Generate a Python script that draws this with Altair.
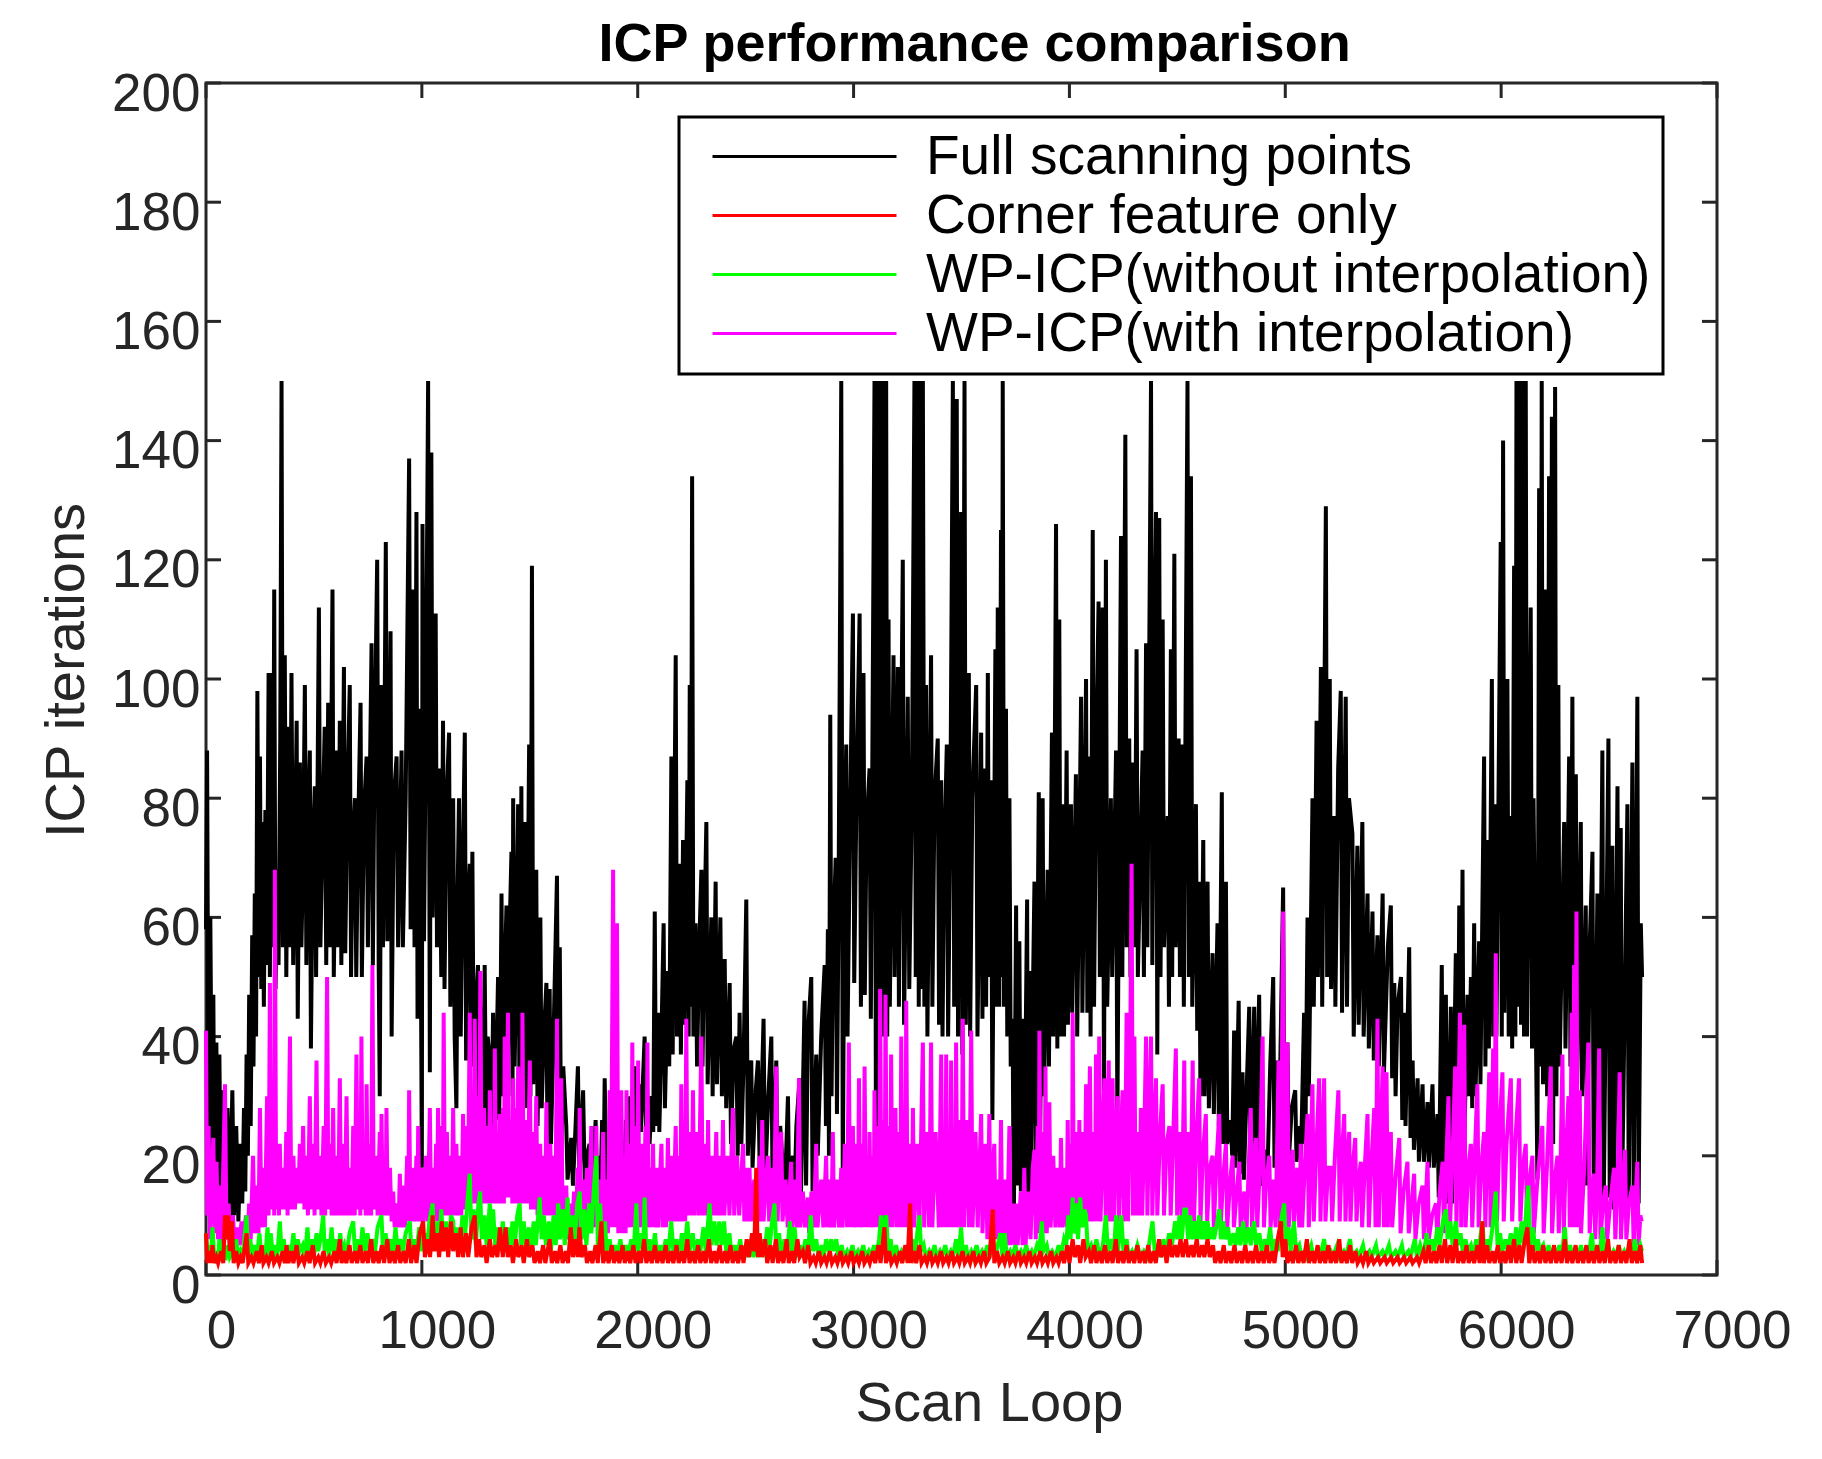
import altair as alt
import pandas as pd

FONT = "Liberation Sans"
INK = "#262626"

X_TICKS = [0, 1000, 2000, 3000, 4000, 5000, 6000, 7000]
Y_TICKS = [0, 20, 40, 60, 80, 100, 120, 140, 160, 180, 200]
SERIES = ["Full scanning points", "Corner feature only",
          "WP-ICP(without interpolation)", "WP-ICP(with interpolation)"]
COLORS = ["#000000", "#ff0000", "#00ff00", "#ff00ff"]

# (scan loop, ICP iterations)
full_points = [
(0,58),(5,88),(12,25),(20,60),(28,20),(34,47),(40,9),(48,39),(55,14),(62,37),(70,8),(80,31),(90,7),(100,28),(110,8),(122,31),(130,10),(140,25),(150,9),(160,22),(168,12),(176,28),(182,14),(188,37),(194,20),(200,47),(207,25),(214,57),(220,35),(226,64),(232,40),(238,98),(244,50),(250,87),(256,48),(262,76),(268,45),(275,78),(282,52),(290,101),(296,50),(304,101),(310,55),(316,115),(322,48),(330,68),(336,52),(344,90),(350,150),(356,55),(365,104),(372,50),(381,92),(388,55),(396,101),(404,52),(412,70),(420,93),(425,43),(435,86),(442,55),(450,70),(458,99),(465,52),(472,75),(481,88),(486,38),(495,72),(504,82),(510,50),(523,112),(530,55),(540,75),(550,92),(557,52),(566,96),(573,55),(586,115),(592,50),(600,72),(605,88),(612,55),(620,93),(627,52),(639,102),(645,54),(655,80),(666,99),(672,50),(680,72),(690,80),(696,50),(705,75),(716,96),(722,50),(732,78),(744,87),(750,55),(758,80),(767,106),(773,52),(780,85),(793,120),(800,52),(805,30),(813,99),(820,55),(833,123),(840,56),(848,80),(855,108),(860,40),(870,80),(883,87),(890,55),(906,88),(912,55),(925,80),(941,137),(948,58),(955,90),(960,115),(966,55),(975,128),(980,43),(990,95),(1000,18),(1003,126),(1010,56),(1020,100),(1029,150),(1037,34),(1044,138),(1050,60),(1058,95),(1064,111),(1070,55),(1080,85),(1090,50),(1098,93),(1105,48),(1115,80),(1126,91),(1132,45),(1140,70),(1145,80),(1152,40),(1160,28),(1166,65),(1172,80),(1180,40),(1190,70),(1199,91),(1205,36),(1212,60),(1222,69),(1228,38),(1234,71),(1240,35),(1250,45),(1260,52),(1266,25),(1275,45),(1280,18),(1291,52),(1298,25),(1305,40),(1315,36),(1320,18),(1330,44),(1336,22),(1345,35),(1353,50),(1358,26),(1365,45),(1369,64),(1375,30),(1384,50),(1392,62),(1398,32),(1405,55),(1415,71),(1420,30),(1423,80),(1430,35),(1440,60),(1446,79),(1452,30),(1461,82),(1467,32),(1477,76),(1483,28),(1490,60),(1497,89),(1503,30),(1510,119),(1516,32),(1523,55),(1530,68),(1536,25),(1549,60),(1555,28),(1565,40),(1577,49),(1582,21),(1592,48),(1598,22),(1610,40),(1626,67),(1632,25),(1639,55),(1645,20),(1655,35),(1669,25),(1675,16),(1685,20),(1692,23),(1700,15),(1712,25),(1723,35),(1730,16),(1747,31),(1755,15),(1765,20),(1777,22),(1785,14),(1795,18),(1805,26),(1812,12),(1820,20),(1828,14),(1835,26),(1840,10),(1847,33),(1855,15),(1865,22),(1875,12),(1885,20),(1895,10),(1905,25),(1915,14),(1925,20),(1935,12),(1945,26),(1955,20),(1965,30),(1972,22),(1985,35),(1992,22),(2005,32),(2015,24),(2032,40),(2040,22),(2048,30),(2055,22),(2065,30),(2072,24),(2079,61),(2085,25),(2094,44),(2100,24),(2110,40),(2120,59),(2126,28),(2140,51),(2146,35),(2156,87),(2162,37),(2176,104),(2182,40),(2194,69),(2200,37),(2210,73),(2216,42),(2230,83),(2236,40),(2241,99),(2246,45),(2252,134),(2258,40),(2268,59),(2275,35),(2285,55),(2295,68),(2300,35),(2310,60),(2318,76),(2324,32),(2341,60),(2347,30),(2361,66),(2367,32),(2383,60),(2390,30),(2403,53),(2410,28),(2426,49),(2432,22),(2445,38),(2457,40),(2463,20),(2472,44),(2480,22),(2490,35),(2503,63),(2510,20),(2526,36),(2532,18),(2545,30),(2557,36),(2565,18),(2583,43),(2590,15),(2605,30),(2619,40),(2625,13),(2642,36),(2648,14),(2660,25),(2673,18),(2680,12),(2696,30),(2702,13),(2719,20),(2725,12),(2735,25),(2750,33),(2756,13),(2773,46),(2780,15),(2788,40),(2804,50),(2810,14),(2827,37),(2834,20),(2850,40),(2866,52),(2872,25),(2881,58),(2886,20),(2892,94),(2898,30),(2905,55),(2917,70),(2923,27),(2930,60),(2943,150),(2950,14),(2958,70),(2966,89),(2972,40),(2985,80),(2997,111),(3003,49),(3015,85),(3028,111),(3034,45),(3046,101),(3052,47),(3060,75),(3074,85),(3080,43),(3097,150),(3104,13),(3110,150),(3118,36),(3125,150),(3132,40),(3140,150),(3146,45),(3151,150),(3156,40),(3162,110),(3168,45),(3185,104),(3190,50),(3205,102),(3210,45),(3228,120),(3234,42),(3251,97),(3258,48),(3270,80),(3282,150),(3288,50),(3296,150),(3302,45),(3310,150),(3316,48),(3321,150),(3328,45),(3336,99),(3342,40),(3359,104),(3365,45),(3375,80),(3390,90),(3396,42),(3406,83),(3412,40),(3420,70),(3432,89),(3438,40),(3448,75),(3460,150),(3466,45),(3478,147),(3484,40),(3490,90),(3498,128),(3504,37),(3514,150),(3520,42),(3534,101),(3540,40),(3550,80),(3568,99),(3574,40),(3591,91),(3597,43),(3605,85),(3614,45),(3622,101),(3628,50),(3637,83),(3643,26),(3657,105),(3662,45),(3668,112),(3675,45),(3683,125),(3687,50),(3691,150),(3697,45),(3706,95),(3712,40),(3722,80),(3728,35),(3737,43),(3742,7),(3753,62),(3758,15),(3768,56),(3775,14),(3784,43),(3790,14),(3804,63),(3808,12),(3814,51),(3820,10),(3830,45),(3838,66),(3844,18),(3858,81),(3864,20),(3876,80),(3882,30),(3899,68),(3905,35),(3919,91),(3925,40),(3938,126),(3944,38),(3953,110),(3959,40),(3969,79),(3975,40),(3987,88),(3993,42),(4007,79),(4013,44),(4030,84),(4036,40),(4054,97),(4060,44),(4077,100),(4083,44),(4092,87),(4098,40),(4108,125),(4114,45),(4125,90),(4135,113),(4141,50),(4154,112),(4160,30),(4169,120),(4175,45),(4192,80),(4198,50),(4216,88),(4222,25),(4239,124),(4245,50),(4259,141),(4265,55),(4277,90),(4283,50),(4296,86),(4302,55),(4311,105),(4317,50),(4339,88),(4345,50),(4355,106),(4361,55),(4378,150),(4384,52),(4392,100),(4401,128),(4407,37),(4416,127),(4422,50),(4432,110),(4438,55),(4455,77),(4461,45),(4470,105),(4476,50),(4486,121),(4492,55),(4506,90),(4512,50),(4524,89),(4530,45),(4547,150),(4553,50),(4563,134),(4569,45),(4586,79),(4592,41),(4601,66),(4607,30),(4620,73),(4626,30),(4640,66),(4646,28),(4663,54),(4669,27),(4686,59),(4692,25),(4706,81),(4712,22),(4725,66),(4731,22),(4748,26),(4754,20),(4763,41),(4769,18),(4784,46),(4790,17),(4802,34),(4808,16),(4833,45),(4839,18),(4856,45),(4862,20),(4879,47),(4885,15),(4910,21),(4916,15),(4930,35),(4944,50),(4950,18),(4964,36),(4970,20),(4990,65),(4996,20),(5010,39),(5016,19),(5030,28),(5046,31),(5052,19),(5067,25),(5073,20),(5087,44),(5093,22),(5103,60),(5109,30),(5126,80),(5132,45),(5145,93),(5151,50),(5165,102),(5171,45),(5188,129),(5194,50),(5206,100),(5212,48),(5226,77),(5232,45),(5245,85),(5257,98),(5263,44),(5280,97),(5286,45),(5295,80),(5311,74),(5317,40),(5334,72),(5340,42),(5357,76),(5363,40),(5381,64),(5387,38),(5404,61),(5410,36),(5427,57),(5433,35),(5451,64),(5457,34),(5475,55),(5489,62),(5495,33),(5505,49),(5511,30),(5520,45),(5536,50),(5542,26),(5551,44),(5557,25),(5574,55),(5580,23),(5590,36),(5596,21),(5613,33),(5619,19),(5636,32),(5642,19),(5659,29),(5665,18),(5682,32),(5688,18),(5705,27),(5711,13),(5725,52),(5731,15),(5744,47),(5750,12),(5767,45),(5773,12),(5790,54),(5796,14),(5806,62),(5812,15),(5821,68),(5827,18),(5844,47),(5850,30),(5860,50),(5866,28),(5875,59),(5881,30),(5898,56),(5904,32),(5921,87),(5927,35),(5937,73),(5943,38),(5957,100),(5963,40),(5972,79),(5978,40),(5998,123),(6003,40),(6009,140),(6015,44),(6029,100),(6035,40),(6045,77),(6051,38),(6060,119),(6066,40),(6071,150),(6077,45),(6085,150),(6092,42),(6100,150),(6106,40),(6114,150),(6120,40),(6137,112),(6143,38),(6150,80),(6161,41),(6168,16),(6176,132),(6182,35),(6188,150),(6194,32),(6207,115),(6213,30),(6222,134),(6228,25),(6235,144),(6241,22),(6250,149),(6256,30),(6265,99),(6271,35),(6292,76),(6298,38),(6315,87),(6321,35),(6330,97),(6336,33),(6346,84),(6352,32),(6369,76),(6375,30),(6392,62),(6398,15),(6410,55),(6423,71),(6429,12),(6446,64),(6452,12),(6469,88),(6475,11),(6497,90),(6503,13),(6515,72),(6521,11),(6539,82),(6545,12),(6554,75),(6560,13),(6585,79),(6591,12),(6608,86),(6614,10),(6631,97),(6637,12),(6647,59),(6653,50),
]

corner_points = [
(0,7),(6,2),(14,4),(22,2),(30,5),(38,2),(48,3),(56,2),(70,4),(80,2),(88,10),(95,6),(103,10),(110,4),(120,9),(128,2),(140,4),(150,2),(160,3),(170,2),(188,7),(196,2),(210,3),(220,2),(235,4),(245,2),(258,5),(266,2),(280,3),(290,2),(305,4),(315,2),(330,3),(340,2),(355,4),(365,2),(373,5),(382,2),(395,4),(405,2),(420,5),(430,2),(445,3),(455,2),(470,4),(480,2),(495,5),(505,2),(520,3),(530,2),(545,4),(555,2),(570,3),(580,2),(595,4),(605,2),(620,6),(628,2),(640,4),(650,2),(665,5),(675,2),(690,4),(700,2),(715,5),(725,2),(740,4),(750,2),(765,6),(775,2),(790,4),(800,2),(815,5),(825,2),(840,6),(850,2),(865,4),(875,2),(890,5),(900,2),(915,4),(925,2),(940,6),(950,2),(965,5),(975,2),(990,7),(1006,9),(1014,3),(1028,6),(1038,3),(1050,10),(1058,4),(1070,7),(1080,3),(1092,9),(1100,4),(1112,8),(1122,3),(1135,9),(1145,4),(1158,7),(1168,3),(1180,8),(1190,3),(1205,7),(1215,3),(1230,8),(1245,10),(1253,3),(1265,6),(1275,3),(1290,5),(1300,2),(1315,6),(1325,3),(1340,5),(1350,3),(1362,8),(1375,3),(1388,8),(1398,3),(1412,5),(1422,2),(1437,6),(1447,3),(1462,5),(1472,2),(1487,6),(1497,3),(1512,5),(1522,2),(1537,4),(1547,2),(1562,5),(1572,2),(1592,6),(1602,2),(1617,4),(1627,2),(1642,5),(1652,2),(1667,4),(1677,2),(1690,8),(1700,3),(1712,6),(1722,3),(1730,8),(1740,3),(1755,5),(1765,2),(1780,4),(1790,2),(1805,5),(1815,2),(1832,9),(1840,2),(1855,4),(1865,2),(1880,5),(1890,2),(1905,4),(1915,2),(1930,5),(1940,2),(1955,4),(1965,2),(1980,5),(1990,2),(2005,4),(2015,2),(2030,6),(2040,2),(2055,4),(2065,2),(2080,5),(2090,2),(2105,4),(2115,2),(2130,5),(2140,2),(2155,4),(2165,2),(2180,5),(2190,2),(2205,4),(2215,2),(2230,6),(2240,2),(2255,4),(2265,2),(2280,5),(2290,2),(2305,4),(2315,2),(2330,6),(2340,2),(2355,4),(2365,2),(2380,5),(2390,2),(2405,4),(2415,2),(2430,5),(2440,2),(2455,4),(2465,2),(2480,5),(2490,2),(2505,6),(2515,3),(2530,7),(2540,4),(2549,18),(2556,3),(2565,7),(2575,3),(2590,6),(2600,2),(2615,5),(2625,2),(2640,6),(2650,2),(2665,4),(2675,2),(2690,6),(2700,2),(2715,4),(2725,2),(2740,6),(2750,3),(2765,4),(2775,2),(2790,5),(2800,2),(2815,3),(2825,2),(2840,4),(2850,2),(2865,3),(2875,2),(2890,4),(2900,2),(2915,3),(2925,2),(2940,4),(2950,2),(2965,3),(2975,2),(2990,4),(3000,2),(3015,3),(3025,2),(3040,4),(3050,2),(3065,3),(3075,2),(3090,4),(3100,2),(3115,5),(3125,2),(3143,8),(3150,2),(3165,4),(3175,2),(3190,3),(3200,2),(3215,4),(3225,2),(3240,5),(3250,2),(3262,12),(3268,2),(3280,4),(3290,2),(3305,5),(3315,2),(3330,3),(3340,2),(3355,4),(3365,2),(3380,3),(3390,2),(3405,4),(3415,2),(3430,3),(3440,2),(3455,4),(3465,2),(3480,3),(3490,2),(3505,4),(3515,2),(3530,3),(3540,2),(3555,4),(3565,2),(3580,3),(3590,2),(3605,4),(3615,2),(3630,3),(3645,11),(3652,2),(3665,4),(3675,2),(3690,3),(3700,2),(3715,4),(3725,2),(3740,3),(3750,2),(3765,4),(3775,2),(3790,3),(3800,2),(3815,4),(3825,2),(3840,3),(3850,2),(3865,4),(3875,2),(3890,3),(3900,2),(3915,4),(3925,2),(3940,3),(3950,2),(3965,4),(3975,2),(3990,5),(4000,2),(4015,6),(4025,3),(4040,5),(4050,2),(4065,6),(4075,3),(4090,4),(4100,2),(4115,5),(4125,2),(4140,4),(4150,2),(4165,5),(4175,2),(4190,4),(4200,2),(4215,6),(4225,2),(4240,4),(4250,2),(4265,5),(4275,2),(4290,4),(4300,2),(4315,5),(4325,2),(4340,4),(4350,2),(4365,5),(4375,2),(4390,4),(4400,2),(4415,6),(4425,3),(4440,5),(4450,2),(4465,6),(4475,3),(4490,5),(4500,3),(4515,6),(4525,3),(4540,6),(4550,3),(4565,5),(4575,3),(4590,6),(4600,3),(4615,5),(4625,3),(4640,6),(4650,3),(4665,5),(4675,2),(4690,4),(4700,2),(4715,5),(4725,2),(4740,4),(4750,2),(4765,5),(4775,2),(4790,4),(4800,2),(4815,5),(4825,2),(4840,4),(4850,2),(4865,5),(4875,2),(4890,4),(4900,2),(4915,5),(4925,2),(4940,4),(4950,2),(4965,6),(4980,9),(4988,3),(5000,6),(5010,2),(5025,4),(5035,2),(5050,5),(5060,2),(5075,4),(5085,2),(5100,6),(5110,2),(5125,4),(5135,2),(5150,5),(5160,2),(5175,4),(5185,2),(5200,5),(5210,2),(5225,4),(5235,2),(5250,6),(5260,2),(5275,4),(5285,2),(5300,5),(5310,2),(5325,4),(5335,2),(5350,3),(5360,2),(5375,4),(5385,2),(5400,3),(5410,2),(5430,3),(5440,2),(5460,3),(5470,2),(5490,3),(5500,2),(5520,3),(5530,2),(5550,3),(5560,2),(5580,3),(5590,2),(5610,3),(5620,2),(5640,4),(5650,2),(5665,5),(5675,2),(5690,4),(5700,2),(5715,5),(5725,2),(5740,6),(5750,2),(5765,5),(5775,2),(5790,6),(5800,2),(5815,4),(5825,2),(5840,5),(5850,2),(5865,4),(5875,2),(5890,5),(5900,2),(5913,9),(5920,2),(5935,5),(5945,2),(5960,4),(5970,2),(5985,5),(5995,2),(6010,4),(6020,2),(6035,5),(6045,2),(6060,6),(6070,2),(6085,5),(6095,2),(6110,6),(6122,8),(6130,2),(6145,5),(6155,2),(6170,4),(6180,2),(6195,5),(6205,2),(6220,4),(6230,2),(6245,5),(6255,2),(6270,4),(6280,2),(6295,6),(6305,2),(6320,4),(6330,2),(6345,5),(6355,2),(6370,4),(6380,2),(6395,5),(6405,2),(6420,4),(6430,2),(6445,5),(6455,2),(6470,4),(6480,2),(6495,6),(6505,2),(6520,4),(6530,2),(6545,5),(6555,2),(6570,4),(6580,2),(6595,6),(6605,2),(6620,4),(6630,2),(6645,5),(6653,2),
]

wp_plain_points = [
(0,7),(8,3),(15,5),(22,2.5),(30,8),(38,3),(45,4),(55,2.5),(62,6),(70,3),(80,4),(90,2.5),(100,5),(110,3),(122,4),(132,2.5),(140,6),(150,3),(160,4),(170,3),(188,10),(196,3),(205,6),(215,3),(225,5),(235,3),(248,7),(256,3),(265,5),(275,3),(285,8),(292,3),(300,7),(310,3),(320,5),(330,3),(342,9),(350,4),(360,6),(370,3),(382,5),(392,3),(405,7),(414,3),(425,6),(435,4),(448,5),(458,3),(470,8),(478,4),(490,6),(500,3),(512,7),(520,4),(530,6),(543,10),(550,4),(560,6),(570,3),(582,8),(590,4),(600,6),(610,3),(622,7),(630,4),(640,5),(650,3),(665,7),(682,9),(690,4),(700,6),(712,3),(725,8),(735,4),(748,7),(758,4),(770,6),(780,3),(795,8),(813,10),(820,4),(832,7),(842,4),(855,6),(866,3),(878,8),(888,4),(900,6),(912,4),(925,7),(944,9),(952,4),(965,6),(975,4),(988,8),(1000,4),(1012,7),(1022,4),(1035,9),(1050,12),(1058,5),(1068,9),(1078,4),(1090,11),(1100,5),(1112,9),(1122,4),(1135,10),(1145,9),(1152,5),(1165,8),(1175,4),(1188,10),(1198,5),(1210,12),(1222,17),(1230,6),(1240,11),(1250,5),(1262,12),(1270,14),(1278,6),(1290,10),(1300,5),(1315,12),(1322,6),(1330,11),(1340,5),(1352,8),(1362,4),(1375,9),(1385,5),(1398,8),(1408,4),(1420,9),(1430,5),(1442,10),(1453,12),(1460,5),(1472,9),(1482,4),(1495,8),(1505,4),(1518,9),(1528,5),(1546,13),(1555,6),(1565,10),(1575,5),(1588,9),(1598,4),(1610,10),(1620,5),(1632,12),(1640,6),(1652,11),(1662,5),(1675,13),(1685,6),(1698,10),(1708,5),(1720,12),(1731,14),(1740,6),(1752,11),(1762,5),(1775,12),(1785,7),(1796,14),(1808,20),(1815,5),(1826,12),(1836,4),(1848,9),(1858,3),(1870,6),(1880,3),(1895,5),(1905,3),(1920,6),(1930,3),(1945,5),(1955,3),(1970,6),(1980,3),(1994,12),(2002,4),(2015,7),(2025,4),(2032,13),(2040,4),(2055,6),(2065,3),(2080,7),(2090,3),(2105,5),(2115,3),(2130,6),(2140,3),(2155,9),(2165,4),(2180,6),(2190,3),(2205,7),(2215,4),(2230,9),(2240,4),(2255,7),(2265,4),(2280,6),(2290,4),(2305,8),(2315,4),(2333,12),(2342,5),(2355,9),(2365,5),(2378,9),(2388,5),(2400,9),(2410,4),(2425,7),(2435,3),(2450,5),(2460,3),(2475,6),(2485,3),(2500,5),(2510,3),(2525,6),(2535,3),(2550,5),(2560,3),(2575,6),(2585,3),(2600,8),(2610,4),(2622,9),(2634,12),(2642,4),(2655,7),(2665,3),(2680,6),(2690,3),(2705,9),(2715,4),(2727,8),(2737,3),(2752,5),(2762,3),(2777,6),(2787,3),(2802,10),(2812,4),(2827,6),(2837,3),(2852,5),(2862,3),(2873,6),(2885,4),(2897,6),(2907,4),(2920,6),(2930,3),(2945,5),(2955,3),(2970,4),(2980,3),(2995,5),(3005,3),(3020,4),(3030,3),(3045,5),(3055,3),(3070,4),(3080,3),(3095,5),(3105,3),(3118,6),(3128,10),(3136,4),(3145,9),(3151,10),(3160,4),(3172,6),(3182,3),(3197,5),(3207,3),(3222,4),(3232,3),(3247,5),(3257,3),(3272,6),(3282,3),(3295,7),(3305,10),(3313,4),(3325,5),(3335,3),(3350,4),(3360,3),(3375,5),(3385,3),(3400,4),(3410,3),(3425,5),(3435,3),(3450,4),(3460,3),(3475,6),(3485,3),(3498,8),(3507,3),(3520,5),(3530,3),(3545,4),(3555,3),(3570,5),(3580,3),(3595,4),(3605,3),(3620,5),(3630,3),(3645,6),(3655,3),(3680,7),(3690,3),(3700,7),(3710,3),(3725,4),(3735,3),(3750,5),(3760,3),(3775,4),(3785,3),(3800,5),(3810,3),(3825,4),(3835,3),(3850,5),(3860,4),(3872,9),(3880,4),(3895,5),(3905,3),(3920,4),(3935,3),(3950,5),(3960,3),(3975,6),(3985,5),(3995,10),(4005,6),(4015,13),(4022,7),(4030,12),(4040,6),(4050,13),(4060,8),(4070,11),(4077,10),(4085,4),(4100,5),(4110,3),(4125,6),(4140,3),(4155,5),(4169,10),(4178,4),(4195,6),(4205,3),(4216,10),(4225,4),(4240,10),(4250,4),(4265,6),(4275,3),(4290,4),(4300,3),(4315,5),(4330,3),(4345,4),(4360,3),(4385,9),(4395,4),(4410,5),(4420,3),(4435,6),(4448,4),(4462,7),(4475,5),(4490,9),(4500,6),(4510,10),(4520,6),(4532,11),(4540,11),(4550,6),(4560,10),(4570,6),(4580,9),(4590,6),(4600,10),(4610,6),(4620,9),(4630,6),(4640,9),(4650,6),(4660,8),(4670,6),(4685,9),(4694,11),(4702,6),(4712,9),(4722,6),(4735,8),(4745,5),(4760,7),(4770,5),(4782,8),(4792,5),(4805,9),(4815,5),(4830,8),(4840,5),(4855,9),(4865,5),(4880,7),(4890,4),(4905,6),(4915,4),(4930,8),(4940,4),(4955,6),(4965,4),(4980,9),(4995,12),(5003,5),(5015,8),(5025,4),(5040,9),(5050,4),(5065,5),(5075,3),(5090,4),(5100,3),(5120,5),(5130,3),(5150,4),(5160,3),(5180,6),(5190,3),(5210,4),(5220,3),(5240,5),(5250,3),(5270,4),(5280,3),(5300,6),(5310,3),(5330,4),(5340,3),(5360,5),(5370,3),(5390,4),(5400,3),(5420,5),(5430,3),(5450,4),(5460,3),(5480,5),(5490,3),(5510,4),(5520,3),(5540,5),(5550,3),(5570,4),(5580,3),(5600,6),(5610,3),(5625,5),(5640,3),(5655,7),(5665,4),(5680,6),(5690,4),(5705,8),(5715,5),(5730,9),(5744,11),(5752,6),(5765,9),(5775,5),(5790,9),(5800,5),(5812,7),(5822,4),(5835,6),(5845,4),(5860,5),(5870,3),(5885,6),(5895,4),(5913,9),(5922,4),(5935,6),(5945,4),(5960,8),(5975,14),(5983,5),(5995,7),(6005,4),(6020,6),(6030,4),(6045,7),(6055,4),(6070,8),(6080,4),(6095,9),(6105,5),(6118,12),(6126,15),(6134,5),(6148,8),(6158,4),(6170,6),(6180,4),(6195,5),(6205,3),(6220,5),(6230,3),(6245,4),(6255,3),(6270,5),(6280,3),(6295,8),(6305,3),(6320,5),(6330,3),(6345,4),(6355,3),(6370,5),(6380,3),(6395,4),(6405,3),(6420,7),(6430,3),(6445,5),(6455,3),(6470,8),(6480,3),(6495,5),(6505,3),(6520,4),(6530,3),(6545,5),(6555,3),(6570,4),(6580,3),(6595,5),(6605,3),(6620,6),(6630,3),(6645,5),(6653,4),
]

wp_interp_points = [
(0,41),(5,10),(12,25),(18,6),(34,23),(40,7),(49,19),(55,6),(65,15),(72,5),(88,32),(95,6),(105,12),(112,5),(125,10),(132,5),(145,8),(152,5),(165,9),(172,5),(185,10),(192,6),(200,12),(207,6),(218,20),(225,7),(236,15),(243,7),(250,28),(257,8),(266,18),(273,8),(283,30),(290,10),(296,49),(302,11),(310,25),(316,10),(319,68),(325,11),(332,20),(338,10),(342,22),(348,11),(358,18),(364,11),(372,24),(378,10),(389,40),(395,11),(405,20),(412,11),(420,18),(427,12),(435,22),(442,12),(450,25),(456,11),(466,20),(472,10),(481,30),(487,11),(496,22),(503,10),(512,36),(518,11),(528,20),(535,10),(545,25),(552,10),(561,50),(567,11),(575,22),(582,10),(589,28),(595,10),(605,20),(612,10),(620,33),(626,10),(636,22),(643,10),(651,30),(657,10),(667,18),(674,10),(682,25),(689,10),(697,37),(703,11),(710,22),(715,10),(720,40),(726,11),(735,20),(740,10),(744,32),(750,10),(760,22),(765,10),(771,52),(777,11),(788,20),(795,10),(805,24),(810,10),(813,27),(819,10),(828,20),(832,10),(836,28),(842,10),(852,18),(860,9),(867,14),(874,8),(885,12),(892,8),(898,17),(904,8),(915,15),(922,8),(932,20),(937,9),(941,31),(947,9),(958,18),(965,9),(975,20),(979,9),(983,25),(989,9),(1000,18),(1008,9),(1020,20),(1028,9),(1037,28),(1043,9),(1052,18),(1058,9),(1066,22),(1070,9),(1075,28),(1081,10),(1092,25),(1097,10),(1101,44),(1107,10),(1116,24),(1122,10),(1132,20),(1138,10),(1145,28),(1151,10),(1160,22),(1167,10),(1176,20),(1183,10),(1191,27),(1197,11),(1206,25),(1213,11),(1222,44),(1228,12),(1236,30),(1240,12),(1245,43),(1251,12),(1260,30),(1265,12),(1271,51),(1277,12),(1288,28),(1295,12),(1305,25),(1310,12),(1315,31),(1321,12),(1330,25),(1334,12),(1338,38),(1344,12),(1352,24),(1357,12),(1361,27),(1367,12),(1376,28),(1380,12),(1384,40),(1390,13),(1399,44),(1405,13),(1415,26),(1419,12),(1423,33),(1429,12),(1438,28),(1442,12),(1446,35),(1452,12),(1460,30),(1463,12),(1466,44),(1472,12),(1483,26),(1490,12),(1500,36),(1506,11),(1515,24),(1522,11),(1530,30),(1536,10),(1548,22),(1555,10),(1565,20),(1571,10),(1577,29),(1583,10),(1595,22),(1602,10),(1612,20),(1619,10),(1626,43),(1632,10),(1640,25),(1643,9),(1646,33),(1652,8),(1660,14),(1665,7),(1669,15),(1675,6),(1688,12),(1695,6),(1705,14),(1712,7),(1722,18),(1727,7),(1731,28),(1737,7),(1748,16),(1755,7),(1765,18),(1772,7),(1785,25),(1791,8),(1800,18),(1804,8),(1808,25),(1814,8),(1825,16),(1832,8),(1840,24),(1846,7),(1855,16),(1862,7),(1870,31),(1876,8),(1886,68),(1892,8),(1898,30),(1901,8),(1904,59),(1910,7),(1918,18),(1921,7),(1924,31),(1930,7),(1940,20),(1944,7),(1948,31),(1954,8),(1965,22),(1970,8),(1975,39),(1981,8),(1992,25),(1997,8),(2002,36),(2008,8),(2020,22),(2027,8),(2036,25),(2040,8),(2045,39),(2051,8),(2060,18),(2066,8),(2071,22),(2077,8),(2088,18),(2095,8),(2103,16),(2110,22),(2116,8),(2125,18),(2132,8),(2140,23),(2146,9),(2158,20),(2165,9),(2176,25),(2182,9),(2192,20),(2197,9),(2202,32),(2208,9),(2216,22),(2220,9),(2225,43),(2231,10),(2243,24),(2250,10),(2256,31),(2262,10),(2275,24),(2282,10),(2295,40),(2301,10),(2312,22),(2320,10),(2326,26),(2332,10),(2345,20),(2353,10),(2364,24),(2370,10),(2382,20),(2389,10),(2395,26),(2401,10),(2415,20),(2425,10),(2441,28),(2447,10),(2460,20),(2470,10),(2488,22),(2494,9),(2505,18),(2512,9),(2518,18),(2524,9),(2540,16),(2550,9),(2565,20),(2570,9),(2577,26),(2583,9),(2595,16),(2603,20),(2609,9),(2620,18),(2630,9),(2642,35),(2648,9),(2658,20),(2665,24),(2671,9),(2685,16),(2695,8),(2711,19),(2717,8),(2730,16),(2738,8),(2747,33),(2753,8),(2765,14),(2775,8),(2788,13),(2794,7),(2805,14),(2815,8),(2827,22),(2833,8),(2850,16),(2860,8),(2873,20),(2879,8),(2890,16),(2897,8),(2904,24),(2910,8),(2925,16),(2933,8),(2943,18),(2949,8),(2960,22),(2970,8),(2978,39),(2984,8),(2990,18),(2993,8),(2997,25),(3003,8),(3015,22),(3020,8),(3025,33),(3031,8),(3042,22),(3046,8),(3051,35),(3057,8),(3066,20),(3070,8),(3074,24),(3080,8),(3090,20),(3093,8),(3097,31),(3103,8),(3115,25),(3119,8),(3123,48),(3129,8),(3140,26),(3144,8),(3148,47),(3154,8),(3165,25),(3170,8),(3174,37),(3180,8),(3190,22),(3194,28),(3200,8),(3212,24),(3216,8),(3221,40),(3227,8),(3238,26),(3240,8),(3244,46),(3250,8),(3262,22),(3270,8),(3275,28),(3281,8),(3295,22),(3305,8),(3321,39),(3327,8),(3340,24),(3350,8),(3359,39),(3365,8),(3380,24),(3395,8),(3406,37),(3412,8),(3420,24),(3425,8),(3429,37),(3435,8),(3445,24),(3448,8),(3452,36),(3458,8),(3468,24),(3471,8),(3475,39),(3481,8),(3495,26),(3500,8),(3506,43),(3512,8),(3525,26),(3535,8),(3545,41),(3551,8),(3565,24),(3575,8),(3591,27),(3597,7),(3610,22),(3620,6),(3629,27),(3635,6),(3645,18),(3652,22),(3658,6),(3670,16),(3676,6),(3683,26),(3689,6),(3700,16),(3710,5),(3722,25),(3728,5),(3740,12),(3748,5),(3753,12),(3760,5),(3775,14),(3783,5),(3791,18),(3797,5),(3810,14),(3820,6),(3830,18),(3838,21),(3844,6),(3853,25),(3858,7),(3861,41),(3867,7),(3880,24),(3885,7),(3889,35),(3895,7),(3902,22),(3907,29),(3913,8),(3925,20),(3935,8),(3945,18),(3955,8),(3961,23),(3967,8),(3980,18),(3987,8),(3992,26),(3998,8),(4008,22),(4012,9),(4015,44),(4021,9),(4032,24),(4040,9),(4046,26),(4052,9),(4062,24),(4070,9),(4077,32),(4083,9),(4090,24),(4095,35),(4101,9),(4112,24),(4118,9),(4123,37),(4129,9),(4135,26),(4138,40),(4144,9),(4155,24),(4162,33),(4168,9),(4175,24),(4182,36),(4188,9),(4195,24),(4200,33),(4206,9),(4215,24),(4223,30),(4229,9),(4240,24),(4246,31),(4252,9),(4260,26),(4265,44),(4271,9),(4280,30),(4288,69),(4294,10),(4301,40),(4307,10),(4318,24),(4325,10),(4331,28),(4337,10),(4347,24),(4355,40),(4361,10),(4370,26),(4378,40),(4384,10),(4393,24),(4401,33),(4407,10),(4420,24),(4432,32),(4438,10),(4450,22),(4463,25),(4469,10),(4480,22),(4493,38),(4499,10),(4512,24),(4520,9),(4532,36),(4538,9),(4552,24),(4560,9),(4571,36),(4577,9),(4590,24),(4601,33),(4607,9),(4618,20),(4632,27),(4638,9),(4650,18),(4663,20),(4669,8),(4680,18),(4694,27),(4700,8),(4712,16),(4725,22),(4731,8),(4745,16),(4756,20),(4762,8),(4775,14),(4787,19),(4793,8),(4810,14),(4820,7),(4840,28),(4846,8),(4855,16),(4864,23),(4870,8),(4882,18),(4895,40),(4901,8),(4912,16),(4926,20),(4932,8),(4945,16),(4955,8),(4969,36),(4975,8),(4982,24),(4990,61),(4996,8),(5004,24),(5010,39),(5016,8),(5025,16),(5034,21),(5040,8),(5055,18),(5065,8),(5072,22),(5078,8),(5090,18),(5103,27),(5109,8),(5118,20),(5126,32),(5132,9),(5145,22),(5157,33),(5163,9),(5172,22),(5180,33),(5186,9),(5198,18),(5211,18),(5217,9),(5230,20),(5246,31),(5252,9),(5262,20),(5273,27),(5279,9),(5288,20),(5296,24),(5302,9),(5312,18),(5324,23),(5330,9),(5340,16),(5350,19),(5356,8),(5368,18),(5381,27),(5387,8),(5398,18),(5412,28),(5418,8),(5427,43),(5433,8),(5442,22),(5451,35),(5457,8),(5463,20),(5469,34),(5475,8),(5482,18),(5489,24),(5495,8),(5510,16),(5528,23),(5534,7),(5548,14),(5566,19),(5572,7),(5585,12),(5597,17),(5603,6),(5618,12),(5636,15),(5642,6),(5650,12),(5659,19),(5665,6),(5680,10),(5698,12),(5704,6),(5715,14),(5729,19),(5735,7),(5745,18),(5756,30),(5762,7),(5775,20),(5787,35),(5793,8),(5800,22),(5809,44),(5815,8),(5822,26),(5829,42),(5835,8),(5848,18),(5860,22),(5866,8),(5878,20),(5890,32),(5896,8),(5908,18),(5921,24),(5927,8),(5935,22),(5945,34),(5951,8),(5957,24),(5963,38),(5969,9),(5975,54),(5981,9),(5992,24),(6006,34),(6012,9),(6025,22),(6045,33),(6051,9),(6065,22),(6083,33),(6089,9),(6100,18),(6114,22),(6120,8),(6132,16),(6145,20),(6151,7),(6168,16),(6191,25),(6197,7),(6212,18),(6230,35),(6236,7),(6248,16),(6261,20),(6267,7),(6275,18),(6284,37),(6290,7),(6300,20),(6312,30),(6318,8),(6327,44),(6333,8),(6338,52),(6343,8),(6349,61),(6355,8),(6364,31),(6370,7),(6385,18),(6404,39),(6410,7),(6420,14),(6430,17),(6436,6),(6445,16),(6454,38),(6460,6),(6472,12),(6485,15),(6491,6),(6505,12),(6523,18),(6529,6),(6540,16),(6549,34),(6555,6),(6565,14),(6574,21),(6580,6),(6592,12),(6608,15),(6614,5),(6622,12),(6631,19),(6637,5),(6645,10),(6651,9),
]


def frame(points, name):
    df = pd.DataFrame(points, columns=["scan", "iters"])
    df["series"] = name
    return df


W, H, TICK = 1511, 1192, 15
xs = alt.Scale(domain=[0, 7000], nice=False, zero=False)
ys = alt.Scale(domain=[0, 200], nice=False, zero=False)

x_axis = alt.Axis(values=X_TICKS, format="d", grid=False, ticks=False, tickSize=0, domain=False,
                  labelFont=FONT, labelFontSize=53, labelColor=INK, labelPadding=30,
                  labelOffset=15, labelBaseline="top", labelFlush=False, labelOverlap=False,
                  title="Scan Loop", titleFont=FONT, titleFontSize=56, titleFontWeight="normal",
                  titleColor=INK, titleX=783, titleY=145, titleBaseline="alphabetic",
                  titleAlign="center")
y_axis = alt.Axis(values=Y_TICKS, format="d", grid=False, ticks=False, tickSize=0, domain=False,
                  labelFont=FONT, labelFontSize=53, labelColor=INK, labelPadding=6,
                  labelOffset=11, labelBaseline="middle", labelFlush=False, labelOverlap=False,
                  title="ICP iterations", titleFont=FONT, titleFontSize=56, titleFontWeight="normal",
                  titleColor=INK, titleX=-123, titleY=587, titleAngle=270,
                  titleBaseline="alphabetic", titleAlign="center")

color = alt.Color("series:N",
                  scale=alt.Scale(domain=SERIES, range=COLORS),
                  legend=alt.Legend(orient="none", legendX=473, legendY=34, direction="vertical",
                                    title=None, strokeColor="#000000", fillColor="#ffffff",
                                    padding=12, symbolType="M-8,0H8", symbolSize=529,
                                    symbolStrokeWidth=3, symbolOffset=86,
                                    labelFont=FONT, labelFontSize=55, labelColor="#000000",
                                    labelOffset=94, labelLimit=3000, rowPadding=3))


def line(df):
    return alt.Chart(df).mark_line(strokeWidth=4, strokeCap="butt").encode(
        x=alt.X("scan:Q", scale=xs, axis=x_axis),
        y=alt.Y("iters:Q", scale=ys, axis=y_axis),
        color=color,
        order="scan:Q",
    )


xt = pd.DataFrame({"v": X_TICKS})
yt = pd.DataFrame({"v": Y_TICKS})
tick_style = dict(color=INK, strokeWidth=3)
ticks_bottom = alt.Chart(xt).mark_rule(**tick_style).encode(
    x=alt.X("v:Q", scale=xs, axis=x_axis), y=alt.value(H), y2=alt.value(H - TICK))
ticks_top = alt.Chart(xt).mark_rule(**tick_style).encode(
    x=alt.X("v:Q", scale=xs, axis=x_axis), y=alt.value(0), y2=alt.value(TICK))
ticks_left = alt.Chart(yt).mark_rule(**tick_style).encode(
    y=alt.Y("v:Q", scale=ys, axis=y_axis), x=alt.value(0), x2=alt.value(TICK))
ticks_right = alt.Chart(yt).mark_rule(**tick_style).encode(
    y=alt.Y("v:Q", scale=ys, axis=y_axis), x=alt.value(W), x2=alt.value(W - TICK))

chart = alt.layer(
    ticks_bottom, ticks_top, ticks_left, ticks_right,
    line(frame(full_points, SERIES[0])),
    line(frame(wp_interp_points, SERIES[3])),
    line(frame(wp_plain_points, SERIES[2])),
    line(frame(corner_points, SERIES[1])),
).properties(
    width=W, height=H,
    title=alt.TitleParams("ICP performance comparison", font=FONT, fontSize=54, fontWeight="bold",
                          color="#000000", anchor="middle", offset=11, dx=13, dy=15),
    autosize=alt.AutoSizeParams(type="none"),
    padding={"left": 198, "top": 75, "right": 97, "bottom": 176},
    background="#ffffff",
).configure_view(stroke=INK, strokeWidth=3).configure_legend(strokeWidth=3)

chart.save("out.html", embed_options={"renderer": "svg", "actions": False})
